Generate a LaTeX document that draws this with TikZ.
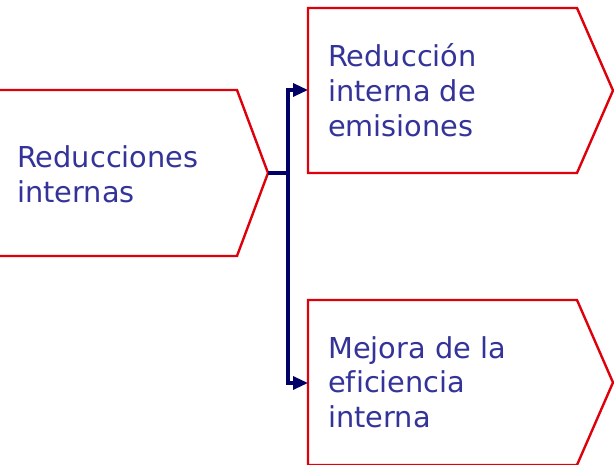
\documentclass[tikz,border=0pt]{standalone}
\usepackage{fontspec}
\setmainfont[Ligatures=CommonOff]{DejaVu Sans}
\usetikzlibrary{arrows.meta}
\definecolor{shred}{RGB}{222,0,10}
\definecolor{txtblue}{RGB}{51,51,153}
\definecolor{navy}{RGB}{0,0,102}
\tikzset{
  chevron/.style={draw=shred, line width=2.4pt, line join=miter},
  label/.style={anchor=base west, inner sep=0pt, align=left, text=txtblue,
    font=\fontsize{28.8}{35}\selectfont},
  conn/.style={draw=navy, line width=3.2pt, -{Triangle[length=15pt,width=13pt]}},
}
\begin{document}
\begin{tikzpicture}[x=1pt,y=-1pt]
\useasboundingbox (0,0) rectangle (614,465);
% left chevron
\draw[chevron] (-20,90) -- (237,90) -- (268,173) -- (237,256) -- (-20,256);
% top-right chevron
\draw[chevron] (308,8) -- (577,8) -- (613,90.5) -- (577,173) -- (308,173) -- cycle;
% bottom-right chevron
\draw[chevron] (308,300) -- (577,300) -- (613,382.5) -- (577,465) -- (308,465) -- cycle;
% texts
\node[label] (tL) at (17,203) {Reducciones\\internas};
\node[label] (tA) at (328,137) {Reducción\\interna de\\emisiones};
\node[label] (tB) at (328,428) {Mejora de la\\eficiencia\\interna};
% connector points
\coordinate (tipL) at (268,173);
\coordinate (inA) at (308,90);
\coordinate (inB) at (308,383);
\coordinate (br) at (288,173);
\draw[draw=navy, line width=3.2pt] (tipL) -- (br);
\draw[conn] (br) |- (inA);
\draw[conn] (br) |- (inB);
\end{tikzpicture}
\end{document}
